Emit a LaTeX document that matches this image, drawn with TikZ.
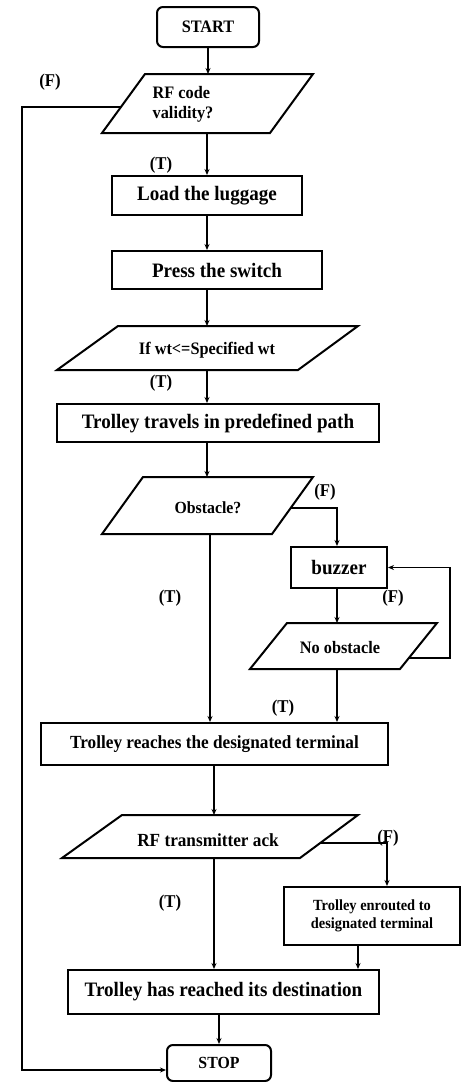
\documentclass[tikz,border=0pt]{standalone}
\usepackage{fontspec}
\setmainfont[FakeStretch=0.93]{Liberation Serif}
\usetikzlibrary{arrows.meta,calc}
\begin{document}
\begin{tikzpicture}[x=1pt,y=-1pt,
  box/.style={draw, line width=2pt, inner sep=0pt, font=\bfseries\fontsize{20.5}{23}\selectfont},
  term/.style={box, rounded corners=6pt},
  para/.style={draw, line width=2pt, line join=miter},
  txt/.style={inner sep=0pt, font=\bfseries\fontsize{17.5}{20}\selectfont},
  lbl/.style={inner sep=0pt, font=\bfseries\fontsize{18}{20}\selectfont},
  arr/.style={line width=1.1pt, -{Stealth[length=6pt,width=5pt]}},
  ln/.style={line width=1.1pt}]
\useasboundingbox (0,0) rectangle (462,1082);

% START
\node[term, minimum width=102, minimum height=40, font=\bfseries\fontsize{17.5}{20}\selectfont] (start) at (208,27) {START};

% RF code validity
\draw[para] (145,74) -- (313,74) -- (270,133) -- (102,133) -- cycle;
\node[txt, align=left] (rf) at (183,104) {RF code\\validity?};
\coordinate (rfN) at (208,74);
\coordinate (rfS) at (207,133);
\coordinate (rfW) at (121,107);
\node[lbl] (f1) at (50,82) {(F)};
\node[lbl] (t1) at (161,165) {(T)};

% Load / Press
\node[box, minimum width=190, minimum height=39] (load) at (207,195.5) {Load the luggage};
\node[box, minimum width=210, minimum height=38] (press) at (217,270) {Press the switch};

% If wt
\draw[para] (118,326) -- (358,326) -- (298,370) -- (57,370) -- cycle;
\node[txt] (ifwt) at (207,350) {If wt<=Specified wt};
\coordinate (ifN) at (207,326);
\coordinate (ifS) at (207,370);
\node[lbl] (t2) at (161,383) {(T)};

% Travel
\node[box, minimum width=322, minimum height=38] (travel) at (218,423) {Trolley travels in predefined path};

% Obstacle
\draw[para] (143,477) -- (313,477) -- (272,534) -- (102,534) -- cycle;
\node[txt, font=\bfseries\fontsize{17}{20}\selectfont] (obs) at (208,508) {Obstacle?};
\coordinate (obN) at (207,477);
\coordinate (obS) at (210,534);
\coordinate (obE) at (291,508);
\node[lbl] (f2) at (325,492) {(F)};

% buzzer
\node[box, minimum width=96, minimum height=41] (buzz) at (339,567.5) {buzzer};

% No obstacle
\draw[para] (287,623) -- (437,623) -- (400,669) -- (250,669) -- cycle;
\node[txt] (noobs) at (340,648) {No obstacle};
\coordinate (noN) at (337,623);
\coordinate (noS) at (337,669);
\coordinate (noE) at (409,658);
\coordinate (loopA) at (450,658);
\node[lbl] (f3) at (393,598) {(F)};
\node[lbl] (t3) at (170,598) {(T)};
\node[lbl] (t4) at (283,708) {(T)};

% Reaches terminal
\node[box, minimum width=347, minimum height=42, font=\bfseries\fontsize{18.5}{21}\selectfont] (reach) at (214.5,744) {Trolley reaches the designated terminal};

% RF transmitter ack
\draw[para] (122,815) -- (358,815) -- (300,858) -- (62,858) -- cycle;
\node[txt, font=\bfseries\fontsize{18.5}{21}\selectfont] (rftx) at (208,840) {RF transmitter ack};
\coordinate (txN) at (214,815);
\coordinate (txS) at (214,858);
\coordinate (txE) at (320,843);
\node[lbl] (f4) at (388,838) {(F)};

% Enrouted
\node[box, minimum width=176, minimum height=58, align=center, font=\bfseries\fontsize{15.5}{18}\selectfont] (enr) at (372,916) {Trolley enrouted to\\designated terminal};
\node[lbl] (t5) at (170,903) {(T)};

% Destination
\node[box, minimum width=311, minimum height=44] (dest) at (223.5,992) {Trolley has reached its destination};

% STOP
\node[term, minimum width=104, minimum height=36, font=\bfseries\fontsize{17}{19}\selectfont] (stop) at (219,1063) {STOP};

% connectors
\draw[arr] (start.south -| rfN) -- (rfN);
\draw[arr] (rfS) -- (load.north -| rfS);
\draw[arr] (load.south -| rfS) -- (press.north -| rfS);
\draw[arr] (press.south -| ifN) -- (ifN);
\draw[arr] (ifS) -- (travel.north -| ifS);
\draw[arr] (travel.south -| obN) -- (obN);
\draw[arr] (obE) -| (buzz.north -| noN);
\draw[arr] (buzz.south -| noN) -- (noN);
\draw[arr] (noE) -- (loopA) |- (buzz.east);
\draw[arr] (noS) -- (reach.north -| noS);
\draw[arr] (obS) -- (reach.north -| obS);
\draw[arr] (reach.south -| txN) -- (txN);
\draw[arr] (txE) -| (enr.north -| 387,0);
\draw[arr] (txS) -- (dest.north -| txS);
\draw[arr] (enr.south -| 358,0) -- (dest.north -| 358,0);
\draw[arr] (dest.south -| stop.north) -- (stop.north);
\coordinate (leftTop) at (22,107);
\draw[arr] (rfW) -- (leftTop) |- ($(stop.west)+(0,7)$);
\end{tikzpicture}
\end{document}
